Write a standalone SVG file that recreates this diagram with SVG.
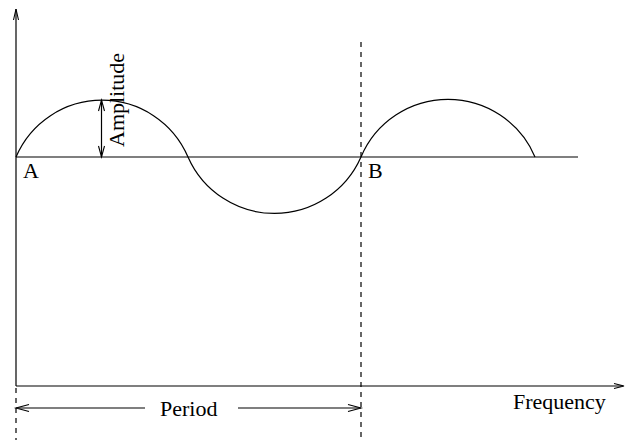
<svg xmlns="http://www.w3.org/2000/svg" width="626" height="440" viewBox="0 0 626 440">
<style>
.ln{stroke:#000;stroke-width:1.2;fill:none}
.dash{stroke:#000;stroke-width:1.2;fill:none;stroke-dasharray:5 5}
.ah{stroke:#000;stroke-width:1.1;fill:none}
text{font-family:"Liberation Serif","Times New Roman",serif;font-size:22px;fill:#000}
</style>
<rect width="626" height="440" fill="#fff"/>
<g id="connectors">
  <!-- y axis -->
  <line class="ln" x1="16" y1="9" x2="16" y2="386"/>
  <polyline class="ah" points="13.5,20 16,9 18.5,20"/>
  <line class="dash" x1="16" y1="388" x2="16" y2="440"/>
  <!-- x axis -->
  <line class="ln" x1="16" y1="386" x2="623" y2="386"/>
  <polyline class="ah" points="614,383.5 624,386 614,388.5"/>
  <!-- baseline -->
  <line class="ln" x1="16" y1="157" x2="578" y2="157"/>
  <!-- vertical dashed line -->
  <line class="dash" x1="361" y1="42" x2="361" y2="440"/>
  <!-- wave -->
  <path class="ln" d="M16,157 A93.5,93.5 0 0 1 188,157 A94.5,94.5 0 0 0 361,157 A94.5,94.5 0 0 1 535,157"/>
  <!-- amplitude arrow -->
  <line class="ln" x1="101.5" y1="100" x2="101.5" y2="157"/>
  <polyline class="ah" points="98.5,111 101.5,100 104.5,111"/>
  <polyline class="ah" points="98.5,146 101.5,157 104.5,146"/>
  <!-- period arrows -->
  <line class="ln" x1="16" y1="408" x2="145" y2="408"/>
  <polyline class="ah" points="29,404.5 16,408 29,411.5"/>
  <line class="ln" x1="238" y1="408" x2="361" y2="408"/>
  <polyline class="ah" points="348,404.5 361,408 348,411.5"/>
</g>
<g id="label-A"><text x="23" y="178">A</text></g>
<g id="label-B"><text x="368" y="178">B</text></g>
<g id="label-amplitude"><text transform="translate(124,147) rotate(-90)">Amplitude</text></g>
<g id="label-period"><text x="160" y="416">Period</text></g>
<g id="label-frequency"><text x="513" y="409">Frequency</text></g>
</svg>
